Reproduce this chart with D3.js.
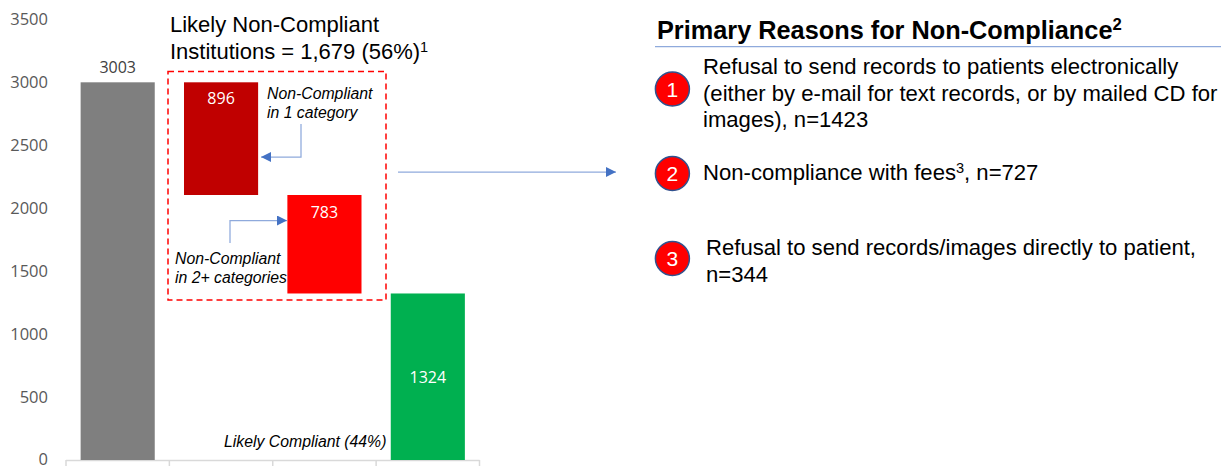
<!DOCTYPE html>
<html>
<head>
<meta charset="utf-8">
<script src="https://cdn.jsdelivr.net/npm/d3@7"></script>
<style>
html,body{margin:0;padding:0;background:#fff;}
svg{display:block;}
text{font-family:"Liberation Sans",Arial,sans-serif;}
</style>
</head>
<body>
<script>
var categories = ["Total","One category","Two or more categories","Compliant"];
var barStart = [0,2107,1324,0];
var barEnd = [3003,3003,2107,1324];
var barLabels = ["3003","896","783","1324"];
var barColors = ["#7f7f7f","#c00000","#ff0000","#00b050"];
var labelColors = ["#404040","#fff","#fff","#fff"];
var yTicks = [0,500,1000,1500,2000,2500,3000,3500];
var reasonNumbers = ["1","2","3"];

var width = 1221, height = 466;
var svg = d3.select("body").append("svg").attr("width",width).attr("height",height);

var x = d3.scaleBand().domain(categories).range([66,479.5]).paddingInner(0.283).paddingOuter(0.1415);
var y = d3.scaleLinear().domain([0,3500]).range([460,19.8]);

//axes: the y axis only has labels, the x axis only has line and ticks
var yAxis = svg.append("g").attr("transform","translate(66,0)")
  .call(d3.axisLeft(y).tickValues(yTicks).tickSize(0).tickPadding(18).tickFormat(d3.format("d")));
yAxis.select(".domain").remove();
yAxis.selectAll("text")
  .style("font-family",'"Open Sans",sans-serif').style("font-size","16.5px").attr("fill","#595959")
  .attr("dy","0.3em");

svg.append("line").attr("x1",66).attr("x2",479.5).attr("y1",460.5).attr("y2",460.5).attr("stroke","#d9d9d9").attr("stroke-width",1.5);
svg.selectAll(".xtick").data(d3.range(5)).enter().append("line")
  .attr("x1",function(d){return 66+d*x.step();})
  .attr("x2",function(d){return 66+d*x.step();})
  .attr("y1",460).attr("y2",466).attr("stroke","#d9d9d9").attr("stroke-width",1.5);

svg.selectAll(".bar").data(categories).enter().append("rect")
  .attr("x",function(d){return x(d);})
  .attr("width",x.bandwidth())
  .attr("y",function(d,i){return y(barEnd[i]);})
  .attr("height",function(d,i){return y(barStart[i])-y(barEnd[i]);})
  .attr("fill",function(d,i){return barColors[i];});

//data labels, the first one sits above its bar
var labelY = [y(barEnd[0])-9, y(barEnd[1])+21.5, y(barEnd[2])+23, y((barStart[3]+barEnd[3])/2)+6];
svg.selectAll(".barlabel").data(categories).enter().append("text")
  .attr("x",function(d){return x(d)+x.bandwidth()/2;})
  .attr("y",function(d,i){return labelY[i];})
  .attr("text-anchor","middle")
  .style("font-family",'"Open Sans",sans-serif')
  .style("font-size","16px")
  .attr("fill",function(d,i){return labelColors[i];})
  .text(function(d,i){return barLabels[i];});

var addText = function(px,py,size,str,opts){
  opts = opts || {};
  var t = svg.append("text").attr("x",px).attr("y",py)
    .style("font-size",size+"px").attr("fill",opts.fill||"#000");
  if(opts.italic){t.style("font-style","italic");}
  if(opts.bold){t.style("font-weight","bold");}
  t.text(str);
  if(opts.sup){
    t.append("tspan").attr("dy",-size*0.32).style("font-size",(size*0.66)+"px").text(opts.sup);
    if(opts.after){t.append("tspan").attr("dy",size*0.32).text(opts.after);}
  }
  return t;
};

addText(170,32,22,"Likely Non-Compliant");
addText(170,59,22,"Institutions = 1,679 (56%)",{sup:"1"});

svg.append("rect").attr("x",168).attr("y",71.5).attr("width",218).attr("height",228.5)
  .attr("fill","none").attr("stroke","#ff0000").attr("stroke-width",1.5).attr("stroke-dasharray","6,4");

addText(267,99,15.8,"Non-Compliant",{italic:true});
addText(267,118,15.8,"in 1 category",{italic:true});
addText(175,264,15.8,"Non-Compliant",{italic:true});
addText(175,283,15.8,"in 2+ categories",{italic:true});
addText(224,447,15.8,"Likely Compliant (44%)",{italic:true});

//connector arrows
var defs = svg.append("defs");
defs.append("marker").attr("id","arrow").attr("viewBox","0 0 10 10").attr("refX",10).attr("refY",5)
  .attr("markerWidth",10).attr("markerHeight",10).attr("markerUnits","userSpaceOnUse").attr("orient","auto")
  .append("path").attr("d","M0,0L10,5L0,10Z").attr("fill","#4472c4");
var arrow = d3.line();
var arrows = [
  [[301,124],[301,157],[261,157]],
  [[230,243],[230,220.5],[287,220.5]],
  [[398,172],[616,172]]
];
svg.selectAll(".arrow").data(arrows).enter().append("path")
  .attr("d",arrow).attr("fill","none").attr("stroke","#8faadc").attr("stroke-width",1.25)
  .attr("marker-end","url(#arrow)");

//right panel
addText(657,38.5,25.3,"Primary Reasons for Non-Compliance",{bold:true,sup:"2"});
svg.append("line").attr("x1",655).attr("x2",1221).attr("y1",46.5).attr("y2",46.5).attr("stroke","#8faadc").attr("stroke-width",1.25);

var circleY = [89,173.5,258.5];
svg.selectAll(".badge").data(reasonNumbers).enter().append("circle")
  .attr("cx",672.4).attr("cy",function(d,i){return circleY[i];}).attr("r",17)
  .attr("fill","#ff0000").attr("stroke","#2f528f").attr("stroke-width",1.5);
svg.selectAll(".badgetext").data(reasonNumbers).enter().append("text")
  .attr("x",672.4).attr("y",function(d,i){return circleY[i]+7.5;})
  .attr("text-anchor","middle").attr("fill","#fff").style("font-size","21px")
  .text(function(d){return d;});

addText(703,74,22.1,"Refusal to send records to patients electronically");
addText(703,100.7,22.1,"(either by e-mail for text records, or by mailed CD for");
addText(703,127.4,22.1,"images), n=1423");
addText(703,180,22.1,"Non-compliance with fees",{sup:"3",after:", n=727"});
addText(706,255,22.1,"Refusal to send records/images directly to patient,");
addText(706,281.7,22.1,"n=344");
</script>
</body>
</html>
